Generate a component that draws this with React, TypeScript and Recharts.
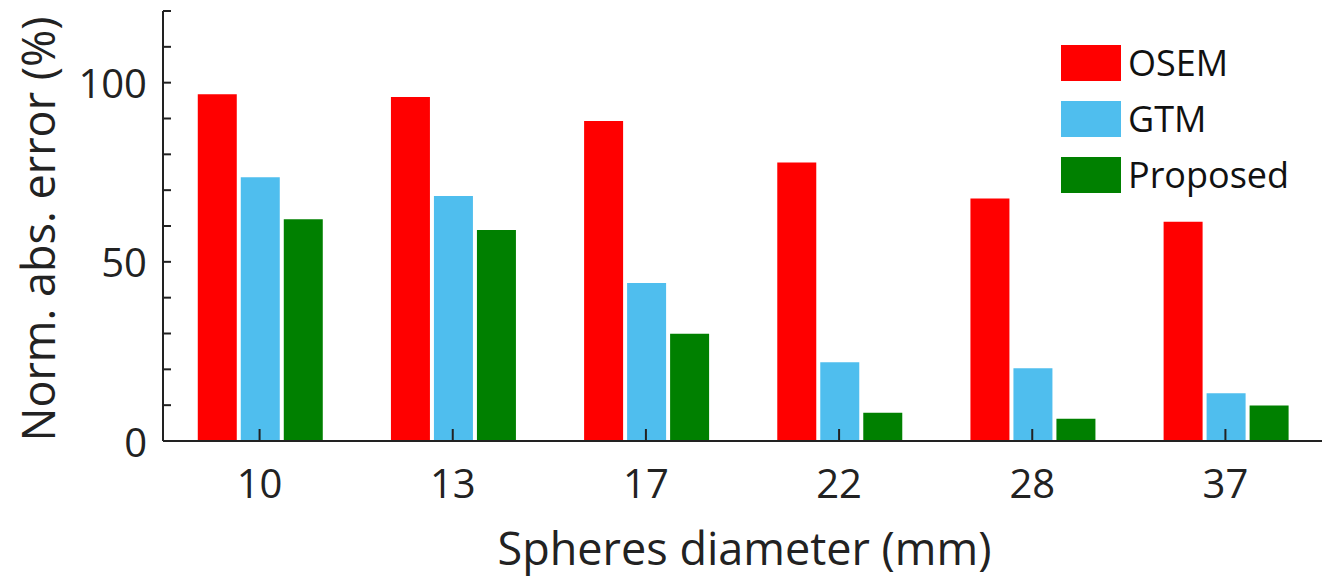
import { Bar, BarChart, Label, Legend, XAxis, YAxis } from 'recharts';

const diameters = ['10', '13', '17', '22', '28', '37'];
const osem = [96.8, 96.0, 89.3, 77.7, 67.7, 61.2];
const gtm = [73.6, 68.4, 44.1, 22.0, 20.3, 13.3];
const proposed = [61.9, 58.9, 29.9, 7.9, 6.2, 9.9];
const seriesOrder = ['OSEM', 'GTM', 'Proposed'];
const yTicks = [0, 10, 20, 30, 40, 50, 60, 70, 80, 90, 100, 110, 120];
const yLabelled = [0, 50, 100];

const data = diameters.map((d, i) => ({
  d,
  OSEM: osem[i],
  GTM: gtm[i],
  Proposed: proposed[i],
}));

const AXIS = '#222';
const FONT = '"Open Sans", sans-serif';

function YTick({ x, y, payload }: any) {
  const v = payload.value;
  return (
    <g>
      <line x1={x} x2={x + 8} y1={y} y2={y} stroke={AXIS} strokeWidth={2} />
      {yLabelled.includes(v) && (
        <text
          x={x - 16}
          y={y}
          textAnchor="end"
          dominantBaseline="central"
          fontFamily={FONT}
          fontSize={40}
          fill={AXIS}
        >
          {v}
        </text>
      )}
    </g>
  );
}

function XTick({ x, y, payload }: any) {
  return (
    <g>
      <line x1={x} x2={x} y1={y} y2={y - 12} stroke={AXIS} strokeWidth={2} />
      <text
        x={x}
        y={y + 41}
        textAnchor="middle"
        dominantBaseline="central"
        fontFamily={FONT}
        fontSize={40}
        fill={AXIS}
      >
        {payload.value}
      </text>
    </g>
  );
}

function renderLegend({ payload }: any) {
  const items = [...(payload || [])].sort(
    (a: any, b: any) => seriesOrder.indexOf(a.value) - seriesOrder.indexOf(b.value),
  );
  return (
    <div style={{ fontFamily: FONT }}>
      {items.map((p: any) => (
        <div
          key={p.value}
          style={{ display: 'flex', alignItems: 'center', height: 36, marginBottom: 20 }}
        >
          <div style={{ width: 60, height: 36, background: p.color }} />
          <span style={{ marginLeft: 7, fontSize: 36, color: '#111', lineHeight: '36px' }}>
            {p.value}
          </span>
        </div>
      ))}
    </div>
  );
}

export default function App() {
  return (
    <div style={{ position: 'absolute', left: 0, top: 0, background: '#fff' }}>
      <BarChart
        width={1331}
        height={580}
        data={data}
        margin={{ top: 11, right: 9, bottom: 0, left: 0 }}
        barCategoryGap="18%"
        barGap={4}
      >
        <Bar dataKey="OSEM" name="OSEM" fill="#ff0000" isAnimationActive={false} />
        <Bar dataKey="GTM" name="GTM" fill="#4fbeee" isAnimationActive={false} />
        <Bar dataKey="Proposed" name="Proposed" fill="#008000" isAnimationActive={false} />
        <XAxis
          dataKey="d"
          height={139}
          tickSize={0}
          tickMargin={0}
          tickLine={false}
          tick={<XTick />}
          interval={0}
          axisLine={{ stroke: AXIS, strokeWidth: 2 }}
        >
          <Label
            content={({ viewBox }: any) => (
              <text
                x={viewBox.x + viewBox.width / 2 + 2}
                y={viewBox.y + 124}
                textAnchor="middle"
                fontFamily={FONT}
                fontSize={45}
                fill={AXIS}
              >
                Spheres diameter (mm)
              </text>
            )}
          />
        </XAxis>
        <YAxis
          width={163}
          domain={[0, 120]}
          ticks={yTicks}
          interval={0}
          tickSize={0}
          tickMargin={0}
          tickLine={false}
          tick={<YTick />}
          axisLine={{ stroke: AXIS, strokeWidth: 2 }}
        >
          <Label
            content={({ viewBox }: any) => {
              const cx = 37;
              const cy = viewBox.y + viewBox.height / 2 + 3;
              return (
                <text
                  x={cx}
                  y={cy}
                  transform={`rotate(-90, ${cx}, ${cy})`}
                  textAnchor="middle"
                  dominantBaseline="central"
                  fontFamily={FONT}
                  fontSize={45}
                  fill={AXIS}
                >
                  Norm. abs. error (%)
                </text>
              );
            }}
          />
        </YAxis>
        <Legend
          layout="vertical"
          align="center"
          verticalAlign="middle"
          content={renderLegend}
          wrapperStyle={{ left: 1061, top: 45, width: 260, height: 160 }}
        />
      </BarChart>
    </div>
  );
}
